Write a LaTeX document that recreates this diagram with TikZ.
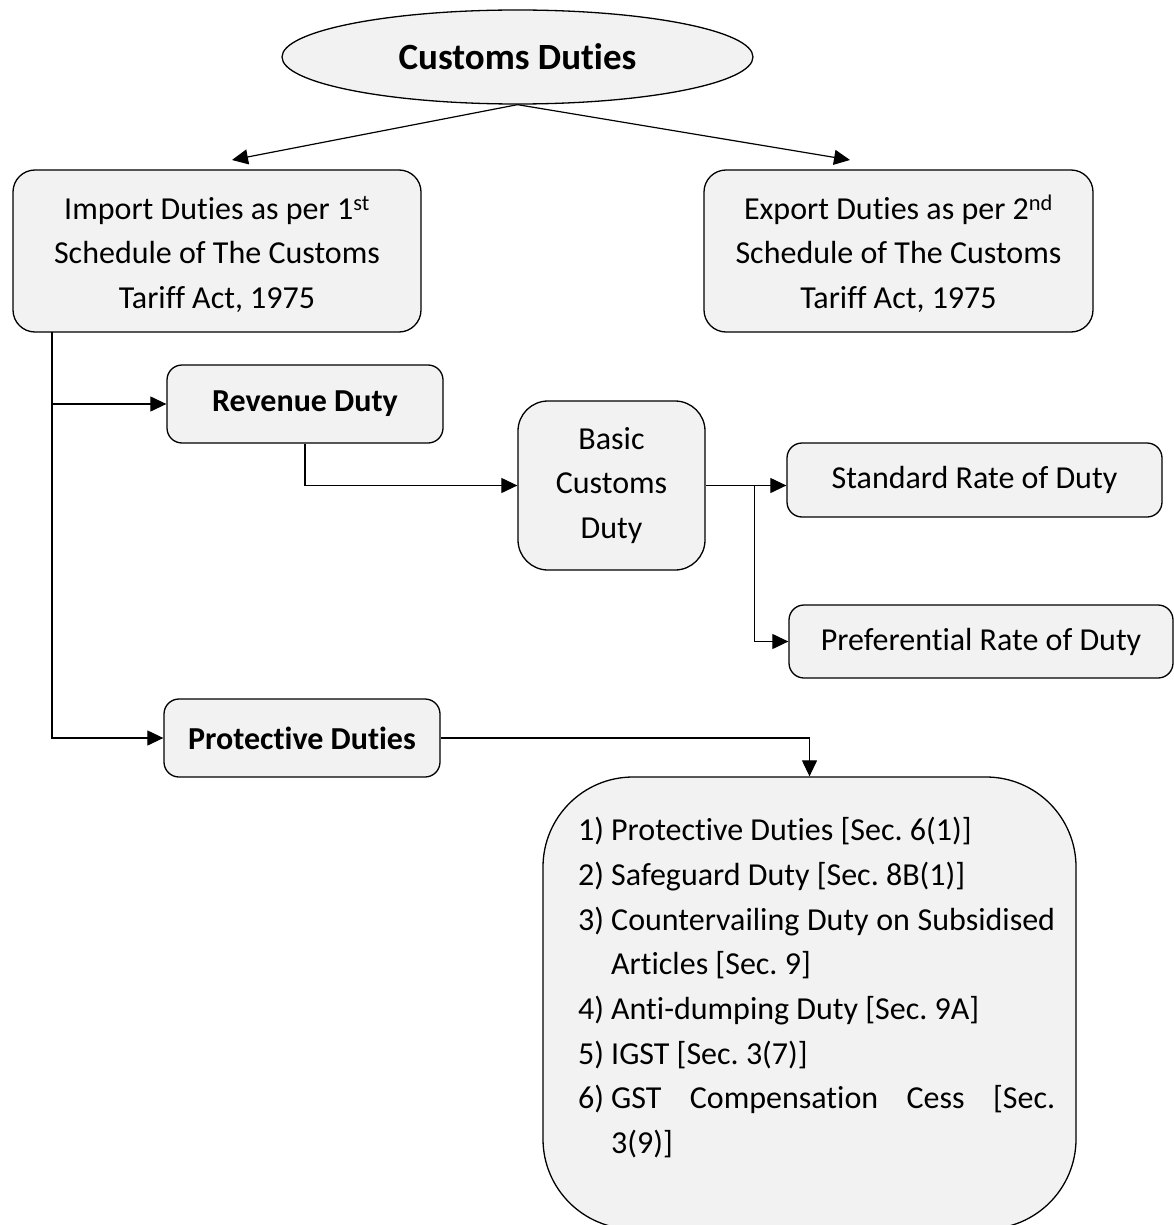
\documentclass[tikz,border=0pt]{standalone}
\usepackage{fontspec}
\setmainfont{Carlito}[Ligatures=NoCommon]
\usetikzlibrary{arrows.meta,shapes.geometric}
\definecolor{boxfill}{HTML}{F2F2F2}
\frenchspacing
\tikzset{
  box/.style={draw=black,line width=1.3pt,fill=boxfill,rounded corners=22pt,align=center,inner sep=0pt,font=\fontsize{32}{44.5}\selectfont},
  boldbox/.style={box,font=\fontsize{32}{44.5}\selectfont\bfseries},
  arr/.style={line width=1.2pt,-{Triangle[length=16pt,width=15pt]}}
}
\begin{document}
\begin{tikzpicture}[x=1pt,y=-1pt]
\useasboundingbox (0,0) rectangle (1174,1225);
\node[ellipse,draw=black,line width=1.3pt,fill=boxfill,minimum width=471pt,minimum height=94pt,inner sep=0pt,font=\fontsize{37}{40}\selectfont\bfseries] (cd) at (517.5,57) {Customs Duties};
\node[box,minimum width=408pt,minimum height=162pt] (imp) at (217,251) {\rule{0pt}{30pt}Import Duties as per 1\textsuperscript{st}\\Schedule of The Customs\\Tariff Act, 1975};
\node[box,minimum width=389pt,minimum height=162pt] (exp) at (898.5,251) {\rule{0pt}{30pt}Export Duties as per 2\textsuperscript{nd}\\Schedule of The Customs\\Tariff Act, 1975};
\node[boldbox,minimum width=276pt,minimum height=78pt,rounded corners=15pt] (rev) at (305,404) {Revenue Duty};
\node[box,minimum width=187pt,minimum height=169pt,rounded corners=30pt] (basic) at (611.5,485.5) {Basic\\Customs\\Duty};
\node[box,minimum width=375pt,minimum height=74pt,rounded corners=15pt] (std) at (974.5,480) {Standard Rate of Duty};
\node[box,minimum width=384pt,minimum height=73pt,rounded corners=15pt] (pref) at (981,641.5) {Preferential Rate of Duty};
\node[boldbox,minimum width=276pt,minimum height=78pt,rounded corners=15pt] (prot) at (302,738) {Protective Duties};
\node[box,minimum width=533pt,minimum height=452pt,rounded corners=90pt] (list) at (809.5,1003) {};
\node[anchor=north west,inner sep=0pt,font=\fontsize{32}{44.7}\selectfont] (items) at (578,817) {\parbox{477pt}{\hangafter=1
\hangindent=33pt\makebox[33pt][l]{1)}Protective Duties [Sec. 6(1)]\par
\hangafter=1\hangindent=33pt\makebox[33pt][l]{2)}Safeguard Duty [Sec. 8B(1)]\par
\hangafter=1\hangindent=33pt\makebox[33pt][l]{3)}Countervailing Duty on Subsidised\linebreak Articles [Sec. 9]\par
\hangafter=1\hangindent=33pt\makebox[33pt][l]{4)}Anti-dumping Duty [Sec. 9A]\par
\hangafter=1\hangindent=33pt\makebox[33pt][l]{5)}IGST [Sec. 3(7)]\par
\hangafter=1\hangindent=33pt\makebox[33pt][l]{6)}GST Compensation Cess [Sec.\linebreak 3(9)]\par}};
\coordinate (la) at (232,160);
\coordinate (ra) at (850,160);
\draw[arr] (cd.south) -- (la);
\draw[arr] (cd.south) -- (ra);
\coordinate (t0) at (52,332);
\coordinate (t1) at (52,404);
\draw[arr] (t0) |- (prot.west);
\draw[arr] (t1) -- (rev.west);
\draw[arr] (rev.south) |- (basic.west);
\coordinate (b1) at (754.5,485.5);
\draw[arr] (basic.east) -- (basic.east -| std.west);
\draw[arr] (b1) |- (pref.west);
\draw[arr] (prot.east) -| (list.north);
\end{tikzpicture}
\end{document}
